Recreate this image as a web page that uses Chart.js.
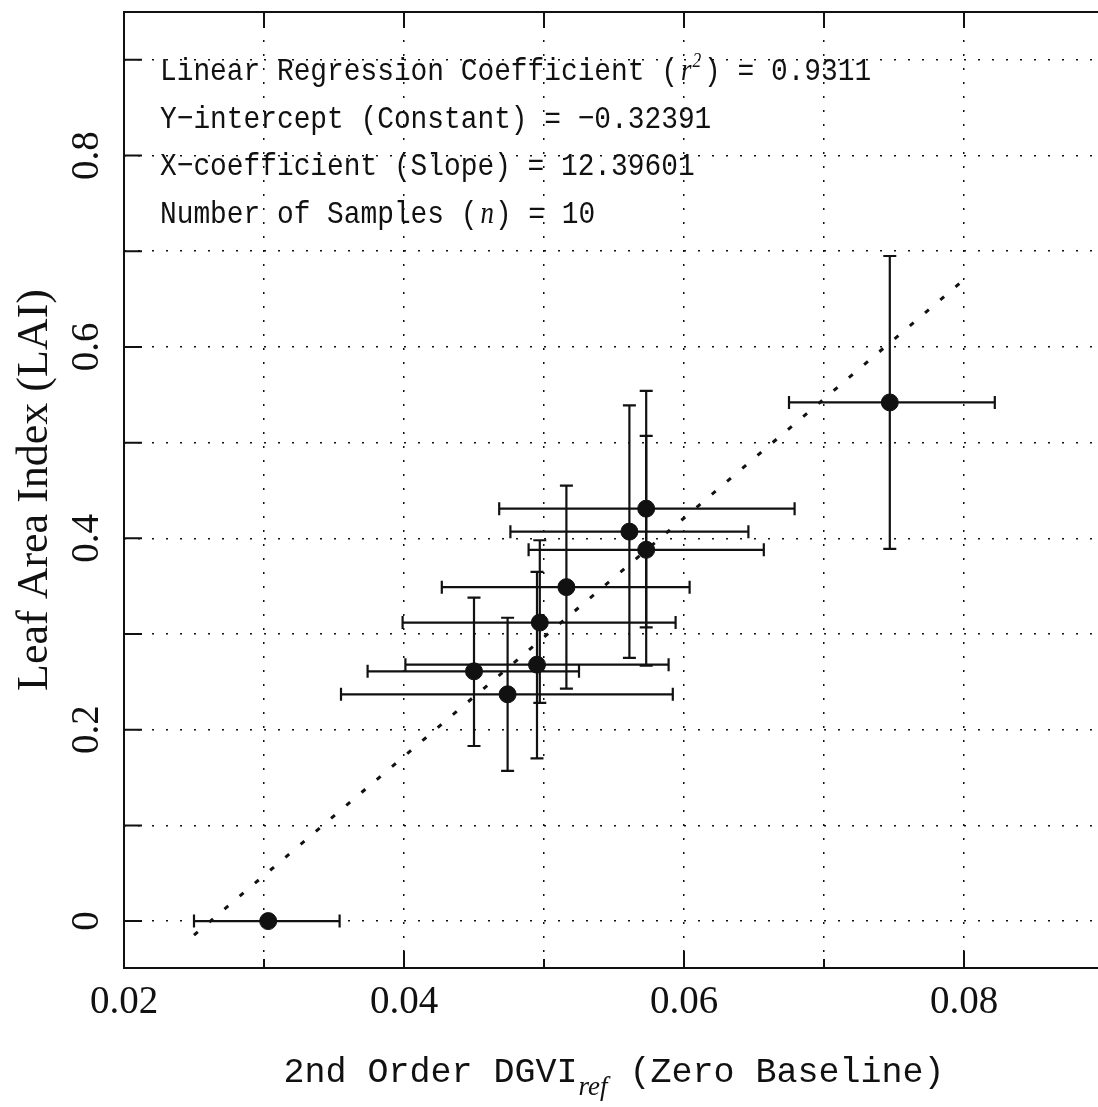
<!DOCTYPE html>
<html lang="en">
<head>
<meta charset="UTF-8">
<title>Leaf Area Index vs 2nd Order DGVI</title>
<script src="https://cdn.jsdelivr.net/npm/chart.js"></script>
<style>
  html, body { margin: 0; padding: 0; background: #fff; overflow: hidden; }
  .wrap { position: relative; width: 1110px; height: 1107px; }
</style>
</head>
<body>
<div class="wrap"><canvas id="chart"></canvas></div>
<script>
// samples: 2nd order DGVI (x) vs LAI (y), with error ranges
const dgvi     = [0.0303, 0.0450, 0.0474, 0.0495, 0.0497, 0.0516, 0.0561, 0.0573, 0.0573, 0.0747];
const lai      = [0.000, 0.261, 0.237, 0.268, 0.312, 0.349, 0.407, 0.431, 0.388, 0.542];
const dgviLow  = [0.0250, 0.0374, 0.0355, 0.0401, 0.0399, 0.0427, 0.0476, 0.0468, 0.0489, 0.0675];
const dgviHigh = [0.0354, 0.0525, 0.0592, 0.0589, 0.0594, 0.0604, 0.0646, 0.0679, 0.0657, 0.0822];
const laiLow   = [0.000, 0.183, 0.157, 0.170, 0.228, 0.243, 0.275, 0.307, 0.267, 0.389];
const laiHigh  = [0.000, 0.338, 0.317, 0.365, 0.398, 0.455, 0.539, 0.554, 0.507, 0.695];

// regression line end points
const fitX = [0.0250, 0.0799];
const fitY = [-0.0146, 0.669];

// grid lines and labelled ticks
const xGrid = [0.02, 0.03, 0.04, 0.05, 0.06, 0.07, 0.08, 0.09];
const yGrid = [0, 0.1, 0.2, 0.3, 0.4, 0.5, 0.6, 0.7, 0.8, 0.9];
const xLabelTicks = [0.02, 0.04, 0.06, 0.08];
const xTickLabels = ['0.02', '0.04', '0.06', '0.08'];
const yLabelTicks = [0, 0.2, 0.4, 0.6, 0.8];
const yTickLabels = ['0', '0.2', '0.4', '0.6', '0.8'];

const statLines = [
  [{ t: 'Linear Regression Coefficient (' }, { t: 'r', it: true }, { t: '2', sup: true }, { t: ') = 0.9311' }],
  [{ t: 'Y\u2212intercept (Constant) = \u22120.32391' }],
  [{ t: 'X\u2212coefficient (Slope) = 12.39601' }],
  [{ t: 'Number of Samples (' }, { t: 'n', it: true }, { t: ') = 10' }]
];

const ink = '#111';
const mono = '"Liberation Mono", "DejaVu Sans Mono", monospace';
const serif = '"Liberation Serif", "DejaVu Serif", serif';

function drawRich(ctx, segs, x, y, sx) {
  let cx = x;
  segs.forEach(s => {
    ctx.font = s.font;
    const w = ctx.measureText(s.t).width * sx;
    cx += (s.padL || 0);
    ctx.save();
    ctx.translate(cx, y + (s.dy || 0));
    ctx.scale(sx, 1);
    ctx.fillText(s.t, 0, 0);
    ctx.restore();
    cx += w + (s.padR || 0);
  });
  return cx - x;
}

function richWidth(ctx, segs, sx) {
  let w = 0;
  segs.forEach(s => {
    ctx.font = s.font;
    w += ctx.measureText(s.t).width * sx + (s.padL || 0) + (s.padR || 0);
  });
  return w;
}

const decor = {
  id: 'decor',
  beforeDatasetsDraw(chart) {
    const { ctx, scales: { x, y } } = chart;
    const cap = 6.5;
    ctx.save();
    ctx.strokeStyle = ink;
    ctx.lineWidth = 2.2;
    dgvi.forEach((v, i) => {
      const px = x.getPixelForValue(v);
      const py = y.getPixelForValue(lai[i]);
      const x0 = x.getPixelForValue(dgviLow[i]);
      const x1 = x.getPixelForValue(dgviHigh[i]);
      ctx.beginPath();
      ctx.moveTo(x0, py); ctx.lineTo(x1, py);
      ctx.moveTo(x0, py - cap); ctx.lineTo(x0, py + cap);
      ctx.moveTo(x1, py - cap); ctx.lineTo(x1, py + cap);
      if (laiHigh[i] > laiLow[i]) {
        const y0 = y.getPixelForValue(laiLow[i]);
        const y1 = y.getPixelForValue(laiHigh[i]);
        ctx.moveTo(px, y0); ctx.lineTo(px, y1);
        ctx.moveTo(px - cap, y0); ctx.lineTo(px + cap, y0);
        ctx.moveTo(px - cap, y1); ctx.lineTo(px + cap, y1);
      }
      ctx.stroke();
    });
    ctx.restore();
  },
  afterDraw(chart) {
    const { ctx, chartArea: a, scales: { x, y } } = chart;
    ctx.save();
    ctx.strokeStyle = ink;
    ctx.fillStyle = ink;

    // frame
    ctx.lineWidth = 2;
    ctx.strokeRect(a.left, a.top, a.right - a.left, a.bottom - a.top);

    // inward ticks
    ctx.beginPath();
    xGrid.forEach(v => {
      if (v <= x.min + 1e-9 || v >= x.max - 1e-9) return;
      const px = x.getPixelForValue(v);
      const len = xLabelTicks.includes(v) ? 17 : 9;
      ctx.moveTo(px, a.bottom); ctx.lineTo(px, a.bottom - len);
      ctx.moveTo(px, a.top); ctx.lineTo(px, a.top + 16);
    });
    yGrid.forEach(v => {
      const py = y.getPixelForValue(v);
      ctx.moveTo(a.left, py); ctx.lineTo(a.left + 18, py);
    });
    ctx.stroke();

    // x tick labels
    ctx.font = '39px ' + serif;
    ctx.textAlign = 'center';
    ctx.textBaseline = 'alphabetic';
    xLabelTicks.forEach((v, i) => {
      ctx.fillText(xTickLabels[i], x.getPixelForValue(v), a.bottom + 45);
    });

    // y tick labels (rotated)
    yLabelTicks.forEach((v, i) => {
      ctx.save();
      ctx.translate(a.left - 26, y.getPixelForValue(v));
      ctx.rotate(-Math.PI / 2);
      ctx.fillText(yTickLabels[i], 0, 0);
      ctx.restore();
    });

    // y title
    ctx.save();
    ctx.font = '44px ' + serif;
    ctx.translate(47, (a.top + a.bottom) / 2);
    ctx.rotate(-Math.PI / 2);
    ctx.fillText('Leaf Area Index (LAI)', 0, 0);
    ctx.restore();

    // x title with subscript
    ctx.textAlign = 'left';
    const xTitle = [
      { t: '2nd Order DGVI', font: '35px ' + mono },
      { t: 'ref', font: 'italic 27px ' + serif, dy: 13, padL: 1, padR: 1 },
      { t: ' (Zero Baseline)', font: '35px ' + mono }
    ];
    const tw = richWidth(ctx, xTitle, 1);
    drawRich(ctx, xTitle, (a.left + a.right) / 2 - tw / 2, 1082, 1);

    // regression statistics
    statLines.forEach((line, k) => {
      const segs = line.map(s => {
        if (s.it) return { t: s.t, font: 'italic 31px ' + serif, padL: 3, padR: 1 };
        if (s.sup) return { t: s.t, font: 'italic 20px ' + serif, dy: -13, padR: 3 };
        return { t: s.t, font: '32px ' + mono };
      });
      drawRich(ctx, segs, a.left + 36, a.top + 68 + k * 47.5, 0.87);
    });
    ctx.restore();
  }
};

const ctx = document.getElementById('chart').getContext('2d');
new Chart(ctx, {
  data: {
    datasets: [
      {
        type: 'line',
        data: fitX.map((v, i) => ({ x: v, y: fitY[i] })),
        borderColor: ink,
        borderWidth: 3,
        borderDash: [5, 15],
        pointRadius: 0,
        fill: false
      },
      {
        type: 'scatter',
        data: dgvi.map((v, i) => ({ x: v, y: lai[i] })),
        backgroundColor: ink,
        borderColor: ink,
        pointRadius: 8.5,
        pointHoverRadius: 8.5
      }
    ]
  },
  options: {
    responsive: true,
    maintainAspectRatio: false,
    animation: false,
    events: [],
    layout: { padding: { top: 12, right: 6, left: 0, bottom: 0 }, autoPadding: false },
    plugins: { legend: { display: false }, tooltip: { enabled: false } },
    scales: {
      x: {
        type: 'linear',
        min: 0.02,
        max: 0.09,
        afterBuildTicks: s => { s.ticks = xGrid.map(v => ({ value: v })); },
        afterFit: s => { s.height = 139; },
        ticks: { display: false },
        grid: { color: ink, lineWidth: 1.5, drawTicks: false },
        border: { display: false, dash: [2, 12] }
      },
      y: {
        type: 'linear',
        min: -0.049,
        max: 0.95,
        afterBuildTicks: s => { s.ticks = yGrid.map(v => ({ value: v })); },
        afterFit: s => { s.width = 124; },
        ticks: { display: false },
        grid: { color: ink, lineWidth: 1.5, drawTicks: false },
        border: { display: false, dash: [2, 12] }
      }
    }
  },
  plugins: [decor]
});
</script>
</body>
</html>
